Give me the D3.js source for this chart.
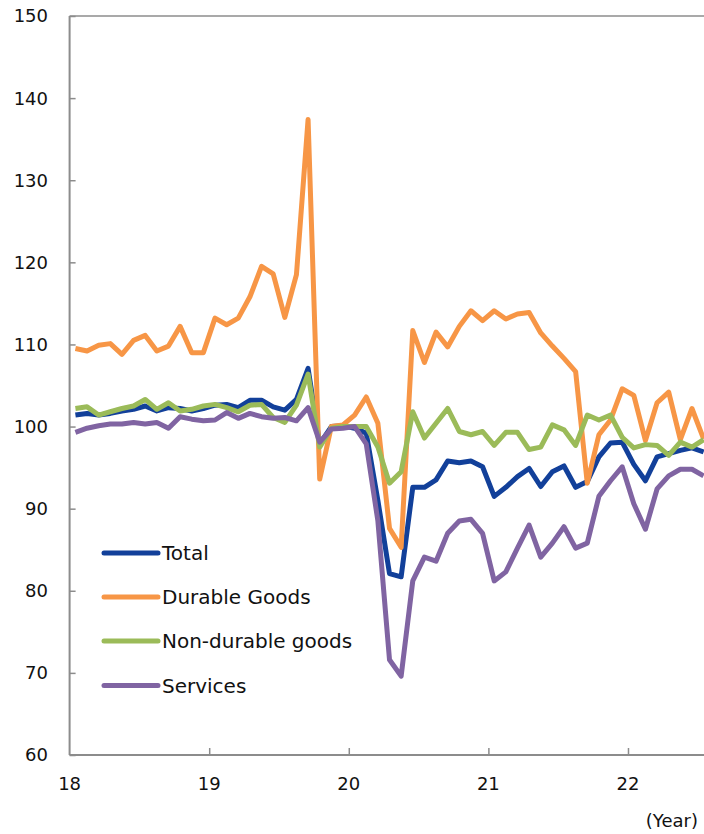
<!DOCTYPE html>
<html>
<head>
<meta charset="utf-8">
<script src="https://cdn.jsdelivr.net/npm/d3@7"></script>
<style>
  html, body { margin: 0; padding: 0; background: #fff; }
  svg { display: block; font-family: "DejaVu Sans", Verdana, sans-serif; }
</style>
</head>
<body>
<svg id="chart" width="704" height="834"></svg>
<script>
// Monthly index values, Jan 2018 – Jul 2022
const months = d3.range(55); // 0 = Jan 2018

const total = [
  101.4, 101.6, 101.4, 101.6, 101.9, 102.1, 102.5, 101.9, 102.3, 102.2, 101.9, 102.2,
  102.6, 102.7, 102.3, 103.2, 103.2, 102.4, 102.0, 103.3, 107.1, 97.9, 100.0, 100.1,
  99.8, 99.2, 91.0, 82.1, 81.7, 92.6, 92.6, 93.5, 95.8, 95.6, 95.8, 95.1,
  91.5, 92.6, 93.9, 94.9, 92.7, 94.5, 95.2, 92.6, 93.3, 96.3, 98.0, 98.1,
  95.4, 93.4, 96.3, 96.7, 97.1, 97.4, 96.9
];
const durable = [
  109.5, 109.2, 109.9, 110.1, 108.8, 110.5, 111.1, 109.2, 109.8, 112.2, 109.0, 109.0,
  113.2, 112.4, 113.2, 115.8, 119.5, 118.6, 113.3, 118.5, 137.4, 93.6, 100.0, 100.2,
  101.4, 103.6, 100.4, 87.6, 85.3, 111.7, 107.8, 111.5, 109.7, 112.2, 114.1, 112.9,
  114.1, 113.1, 113.7, 113.9, 111.4, 109.8, 108.3, 106.7, 93.1, 99.0, 100.8, 104.6,
  103.8, 98.3, 102.9, 104.2, 98.4, 102.2, 98.5
];
const nonDurable = [
  102.2, 102.4, 101.4, 101.8, 102.2, 102.5, 103.3, 102.1, 102.9, 101.9, 102.1, 102.5,
  102.7, 102.3, 101.8, 102.6, 102.7, 101.1, 100.5, 102.6, 106.4, 97.5, 99.8, 100.0,
  100.0, 100.0, 97.5, 93.1, 94.5, 101.8, 98.6, 100.4, 102.2, 99.4, 99.0, 99.4,
  97.7, 99.3, 99.3, 97.2, 97.5, 100.2, 99.6, 97.7, 101.4, 100.8, 101.4, 98.7,
  97.4, 97.8, 97.7, 96.5, 98.1, 97.5, 98.4
];
const services = [
  99.3, 99.8, 100.1, 100.3, 100.3, 100.5, 100.3, 100.5, 99.8, 101.2, 100.9, 100.7,
  100.8, 101.7, 101.0, 101.6, 101.2, 101.0, 101.1, 100.7, 102.3, 98.1, 99.7, 99.8,
  100.0, 97.9, 88.5, 71.6, 69.6, 81.2, 84.1, 83.6, 87.0, 88.5, 88.7, 87.0,
  81.2, 82.3, 85.2, 88.0, 84.1, 85.8, 87.8, 85.2, 85.8, 91.5, 93.4, 95.1,
  90.6, 87.5, 92.4, 94.0, 94.8, 94.8, 94.0
];

const seriesNames = ["Total", "Durable Goods", "Non-durable goods", "Services"];
const seriesColors = ["#12409A", "#F79646", "#9BBB59", "#8064A2"];
const seriesValues = [total, durable, nonDurable, services];

const yTicks = [60, 70, 80, 90, 100, 110, 120, 130, 140, 150];
const xTickMonths = [0, 12, 24, 36, 48];
const xTickLabels = ["18", "19", "20", "21", "22"];

const svg = d3.select("#chart");
const axisColor = "#8c8c8c";

// Scales: x in months since Jan 2018 (points sit mid-month), y in index units
const x = d3.scaleLinear().domain([0, 54.5]).range([69.6, 703.6]);
const y = d3.scaleLinear().domain([60, 150]).range([755, 16]);

// Y axis with inward ticks
const yAxis = svg.append("g").attr("transform", `translate(${x(0)},0)`)
  .call(d3.axisRight(y).tickValues(yTicks).tickSize(6).tickFormat(""));
yAxis.select(".domain").remove();
yAxis.selectAll(".tick line").attr("stroke", axisColor).attr("stroke-width", 1.5);
svg.append("line")
  .attr("x1", x(0)).attr("x2", x(0)).attr("y1", y(150)).attr("y2", y(60))
  .attr("stroke", axisColor).attr("stroke-width", 2);

svg.append("g").selectAll("text").data(yTicks).join("text")
  .attr("x", 48).attr("y", d => y(d)).attr("dy", "0.36em")
  .attr("text-anchor", "end").attr("font-size", 18).attr("fill", "#111")
  .text(d => d);

// Top frame line
svg.append("line")
  .attr("x1", x(0)).attr("x2", 704).attr("y1", y(150)).attr("y2", y(150))
  .attr("stroke", axisColor).attr("stroke-width", 1.5);

// X axis with upward year ticks
const xAxis = svg.append("g").attr("transform", `translate(0,${y(60)})`)
  .call(d3.axisTop(x).tickValues(xTickMonths.slice(1)).tickSize(7).tickFormat(""));
xAxis.select(".domain").remove();
xAxis.selectAll(".tick line").attr("stroke", axisColor).attr("stroke-width", 1.5);
svg.append("line")
  .attr("x1", x(0)).attr("x2", 704).attr("y1", y(60)).attr("y2", y(60))
  .attr("stroke", axisColor).attr("stroke-width", 2);

svg.append("g").selectAll("text").data(xTickMonths).join("text")
  .attr("x", d => x(d)).attr("y", 790)
  .attr("text-anchor", "middle").attr("font-size", 18).attr("fill", "#111")
  .text((d, i) => xTickLabels[i]);

svg.append("text")
  .attr("x", 698).attr("y", 827).attr("text-anchor", "end")
  .attr("font-size", 18).attr("fill", "#111").text("(Year)");

// Series lines, drawn in legend order
const line = d3.line().x(d => x(d[0] + 0.5)).y(d => y(d[1]));
seriesValues.forEach((vals, k) => {
  svg.append("path")
    .datum(months.map(m => [m, vals[m]]))
    .attr("d", line)
    .attr("fill", "none")
    .attr("stroke", seriesColors[k])
    .attr("stroke-width", 5)
    .attr("stroke-linejoin", "round");
});

// Legend
const legendY = [553, 597, 641, 685.5];
const legend = svg.append("g");
seriesNames.forEach((name, k) => {
  legend.append("line")
    .attr("x1", 104).attr("x2", 158).attr("y1", legendY[k]).attr("y2", legendY[k])
    .attr("stroke", seriesColors[k]).attr("stroke-width", 5).attr("stroke-linecap", "round");
  legend.append("text")
    .attr("x", 162).attr("y", legendY[k]).attr("dy", "0.36em")
    .attr("font-size", 20).attr("fill", "#111").text(name);
});
</script>
</body>
</html>
